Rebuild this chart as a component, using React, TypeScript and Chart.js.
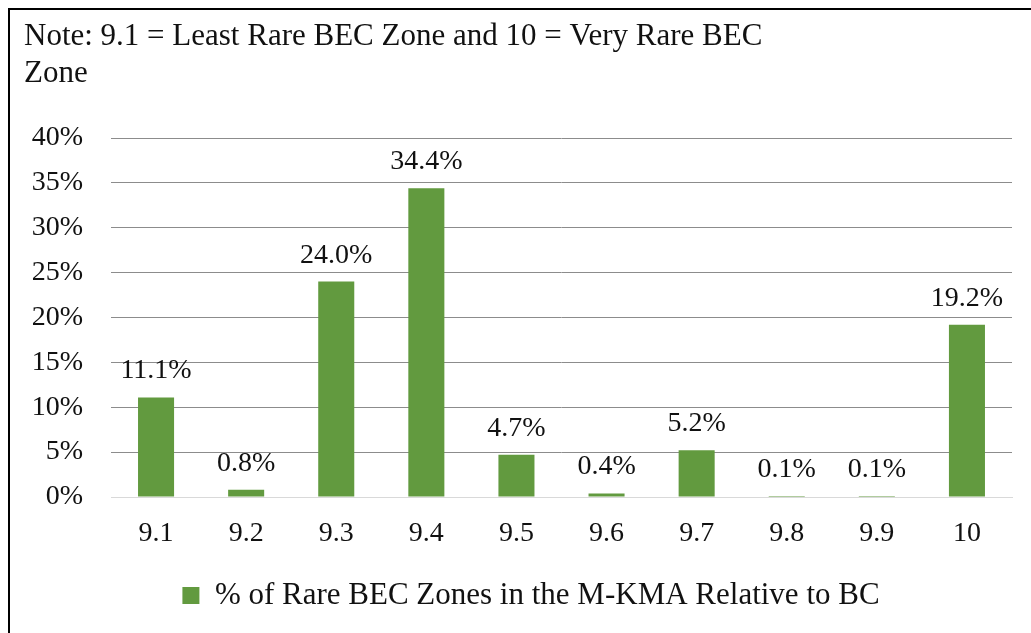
import React, { useEffect, useRef } from "react";
import { Chart, registerables } from "chart.js";

Chart.register(...registerables);

const categories = ["9.1", "9.2", "9.3", "9.4", "9.5", "9.6", "9.7", "9.8", "9.9", "10"];
const values = [11.1, 0.8, 24.0, 34.4, 4.7, 0.4, 5.2, 0.1, 0.1, 19.2];
const seriesLabel = "% of Rare BEC Zones in the M-KMA Relative to BC";
const titleLines = ["Note: 9.1 = Least Rare BEC Zone and 10 = Very Rare BEC", "Zone"];

const FONT = "'Liberation Serif', 'DejaVu Serif', serif";
const GREEN = "#629a3f";
const TEXT = "#111";

const labelPlugin = {
  id: "barLabels",
  afterLayout(chart: any) {
    const l = chart.legend;
    if (l) {
      l.left += 13;
      l.right += 13;
    }
  },
  afterDatasetsDraw(chart: any) {
    const ctx = chart.ctx;
    const meta = chart.getDatasetMeta(0);
    ctx.save();
    ctx.font = `28px ${FONT}`;
    ctx.fillStyle = TEXT;
    ctx.textAlign = "center";
    ctx.textBaseline = "alphabetic";
    meta.data.forEach((el: any, i: number) => {
      const v = chart.data.datasets[0].data[i];
      ctx.fillText(`${Number(v).toFixed(1)}%`, el.x, el.y - 19);
    });
    ctx.restore();
  },
};

export default function App() {
  const ref = useRef<HTMLCanvasElement>(null);
  useEffect(() => {
    if (!ref.current) return;
    const chart = new Chart(ref.current, {
      type: "bar",
      data: {
        labels: categories,
        datasets: [
          {
            label: seriesLabel,
            data: values,
            backgroundColor: GREEN,
            borderWidth: 0,
            barPercentage: 0.4,
            categoryPercentage: 1,
          },
        ],
      },
      options: {
        animation: false,
        responsive: false,
        maintainAspectRatio: false,
        layout: { padding: { left: 14, right: 19, top: 0, bottom: 12 } },
        plugins: {
          title: {
            display: true,
            text: titleLines,
            align: "start",
            color: TEXT,
            font: { family: FONT, size: 31, weight: "normal", lineHeight: 1.2 },
            padding: { top: 8, bottom: 45.6 },
          },
          legend: {
            display: true,
            position: "bottom",
            labels: {
              color: TEXT,
              font: { family: FONT, size: 31 },
              boxWidth: 17,
              boxHeight: 17,
              padding: 10,
            },
          },
          tooltip: { enabled: false },
        },
        scales: {
          x: {
            afterFit(scale: any) {
              scale.height = 73;
            },
            grid: { display: false },
            border: { display: true, color: "#d9d9d9", width: 1 },
            ticks: { color: TEXT, font: { family: FONT, size: 28 }, padding: 12 },
          },
          y: {
            min: 0,
            max: 40,
            afterFit(scale: any) {
              scale.width = 87;
            },
            grid: {
              drawTicks: false,
              color: (c: any) => (c.tick && c.tick.value === 0 ? "#d9d9d9" : "#8c8c8c"),
              lineWidth: 1,
            },
            border: { display: false },
            ticks: {
              stepSize: 5,
              padding: 28,
              color: TEXT,
              font: { family: FONT, size: 28 },
              callback: (v: any) => `${v}%`,
            },
          },
        },
      },
      plugins: [labelPlugin],
    });
    return () => chart.destroy();
  }, []);

  return (
    <div
      style={{
        position: "fixed",
        left: 8,
        top: 8,
        width: 1023,
        height: 625,
        borderLeft: "2px solid #000",
        borderTop: "2px solid #000",
        background: "#fff",
        overflow: "hidden",
      }}
    >
      <canvas ref={ref} width={1021} height={623} style={{ display: "block" }} />
    </div>
  );
}
